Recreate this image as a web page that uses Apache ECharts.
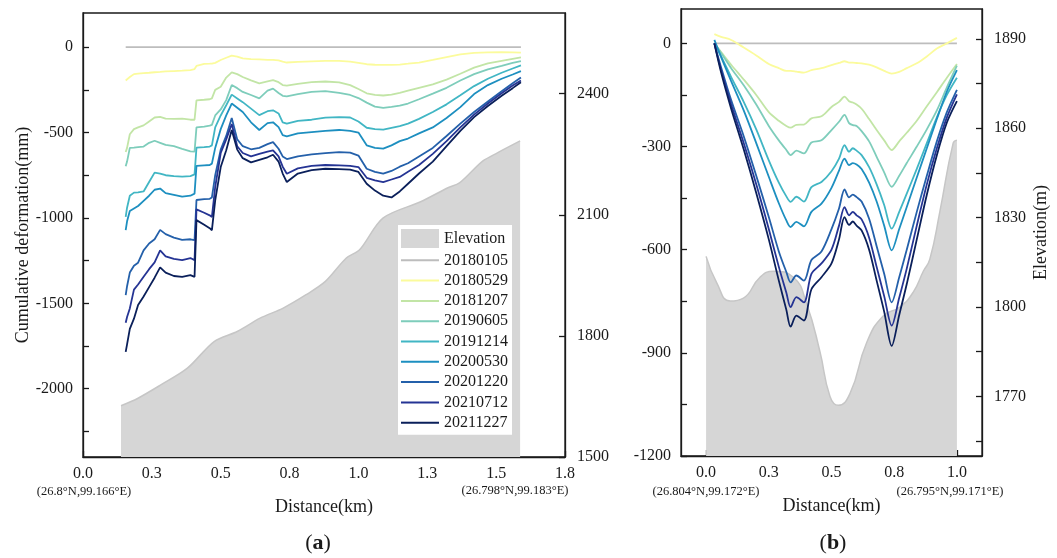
<!DOCTYPE html>
<html lang="en">
<head>
<meta charset="UTF-8">
<title>Cumulative deformation profiles</title>
<script src="https://cdn.jsdelivr.net/npm/echarts@6/dist/echarts.min.js"></script>
<style>html,body{margin:0;padding:0;background:#fff;}</style>
</head>
<body>
<div id="main" style="width:1057px;height:558px;"></div>
<script>
// ---- profile (a) ----
var distA = [0.155,0.16,0.17,0.185,0.2,0.22,0.24,0.26,0.28,0.3,0.33,0.36,0.39,0.405,0.412,0.44,0.46,0.468,0.48,0.5,
  0.52,0.54,0.56,0.58,0.61,0.64,0.67,0.69,0.71,0.725,0.74,0.78,0.83,0.88,0.93,0.97,1.0,1.03,1.06,1.09,
  1.12,1.15,1.18,1.22,1.27,1.32,1.37,1.42,1.47,1.52,1.56,1.59];
var a20180105 = distA.map(function () { return 0; });
var a20180529 = [-195,-190,-175,-158,-155,-152,-150,-147,-145,-142,-140,-138,-135,-128,-110,-98,-97,-96,-92,-75,
  -62,-50,-55,-66,-70,-72,-74,-75,-78,-85,-90,-86,-83,-80,-80,-85,-92,-100,-103,-104,
  -104,-102,-97,-90,-75,-58,-42,-33,-30,-29,-30,-32];
var a20181207 = [-614,-590,-510,-480,-470,-458,-435,-412,-408,-418,-420,-418,-425,-425,-312,-308,-305,-300,-250,-232,
  -178,-148,-158,-175,-195,-212,-200,-193,-205,-222,-225,-215,-205,-201,-206,-222,-245,-270,-280,-283,
  -278,-268,-255,-238,-218,-190,-156,-120,-95,-80,-68,-60];
var a20190605 = [-698,-670,-590,-588,-585,-582,-560,-548,-560,-572,-580,-596,-610,-612,-470,-465,-460,-455,-400,-365,
  -310,-222,-240,-262,-280,-300,-255,-243,-268,-285,-288,-275,-262,-258,-268,-280,-298,-325,-348,-355,
  -350,-343,-330,-305,-272,-238,-195,-158,-130,-110,-92,-82];
var a20191214 = [-994,-940,-870,-852,-850,-845,-790,-735,-740,-750,-755,-758,-755,-745,-588,-585,-582,-575,-470,-400,
  -340,-278,-300,-322,-360,-398,-375,-370,-388,-440,-448,-432,-425,-413,-410,-412,-435,-472,-480,-483,
  -472,-462,-448,-420,-380,-335,-282,-228,-185,-150,-125,-107];
var a20200530 = [-1072,-1020,-960,-945,-930,-900,-870,-835,-828,-855,-865,-875,-870,-858,-695,-692,-690,-682,-590,-480,
  -400,-330,-355,-380,-440,-485,-445,-440,-468,-515,-522,-505,-497,-490,-485,-490,-500,-575,-590,-594,
  -575,-550,-535,-505,-470,-415,-351,-275,-222,-185,-160,-140];
var a20201220 = [-1452,-1400,-1320,-1280,-1262,-1190,-1150,-1125,-1070,-1095,-1115,-1128,-1125,-1130,-895,-890,-888,-880,-750,-600,
  -520,-415,-540,-580,-598,-590,-568,-556,-595,-640,-655,-640,-628,-620,-615,-618,-635,-712,-730,-741,
  -725,-700,-680,-640,-590,-520,-448,-380,-318,-258,-212,-178];
var a20210712 = [-1614,-1580,-1530,-1420,-1390,-1345,-1300,-1260,-1190,-1225,-1240,-1247,-1235,-1247,-950,-970,-985,-994,-819,-620,
  -540,-450,-580,-620,-640,-625,-612,-605,-640,-700,-741,-710,-695,-690,-692,-695,-702,-765,-780,-790,
  -775,-760,-730,-690,-625,-550,-470,-395,-330,-270,-225,-195];
var a20211227 = [-1784,-1740,-1650,-1590,-1510,-1460,-1405,-1350,-1290,-1320,-1340,-1345,-1335,-1345,-1013,-1040,-1060,-1072,-897,-702,
  -604,-485,-600,-650,-675,-660,-645,-630,-670,-740,-790,-740,-720,-712,-714,-717,-731,-800,-840,-870,
  -880,-845,-800,-740,-670,-580,-490,-410,-345,-285,-240,-205];
var elevDistA = [0.138,0.198,0.281,0.379,0.476,0.56,0.643,0.727,0.81,0.88,0.956,1.005,1.089,1.228,1.325,1.367,1.451,1.506,1.587];
var elevA     = [1627,1645,1678,1720,1786,1811,1844,1869,1902,1935,1993,2014,2092,2133,2167,2179,2233,2254,2283];

// ---- profile (b) ----
var distB = [0.033,0.06,0.1,0.15,0.2,0.25,0.29,0.32,0.337,0.36,0.39,0.42,0.46,0.5,0.53,0.552,0.57,0.585,0.6,0.62,
  0.65,0.68,0.71,0.74,0.77,0.8,0.84,0.88,0.92,0.96,1.0];
var b20180105 = distB.map(function () { return 0; });
var b20180529 = [27,19,10,-12,-35,-60,-72,-80,-80,-82,-85,-78,-72,-63,-57,-52,-56,-56,-57,-58,
  -62,-70,-80,-88,-83,-72,-58,-38,-15,0,16];
var b20181207 = [0,-25,-62,-105,-150,-200,-225,-240,-245,-237,-236,-218,-212,-185,-170,-155,-168,-172,-178,-190,
  -220,-252,-282,-310,-285,-260,-225,-183,-142,-100,-60];
var b20190605 = [0,-28,-72,-122,-178,-240,-282,-310,-325,-312,-320,-288,-282,-252,-228,-208,-232,-238,-240,-255,
  -285,-330,-375,-417,-385,-348,-300,-250,-195,-128,-65];
var b20191214 = [0,-38,-98,-170,-250,-340,-405,-445,-461,-446,-460,-418,-403,-372,-335,-296,-315,-305,-312,-325,
  -360,-410,-470,-539,-490,-437,-365,-290,-215,-150,-100];
var b20200530 = [10,-40,-110,-195,-290,-388,-465,-515,-534,-519,-532,-490,-466,-420,-370,-335,-354,-348,-352,-365,
  -405,-460,-530,-602,-540,-476,-390,-305,-220,-140,-78];
var b20201220 = [0,-70,-165,-270,-385,-505,-605,-665,-695,-675,-690,-630,-605,-540,-480,-425,-448,-440,-447,-460,
  -510,-590,-670,-753,-680,-600,-490,-385,-285,-200,-135];
var b20210712 = [0,-78,-178,-290,-410,-540,-650,-725,-767,-738,-753,-670,-640,-600,-530,-476,-500,-490,-500,-512,
  -565,-650,-735,-821,-740,-655,-530,-410,-305,-215,-148];
var b20211227 = [0,-85,-190,-308,-435,-570,-690,-775,-824,-792,-806,-715,-680,-640,-570,-505,-528,-518,-530,-544,
  -600,-690,-780,-880,-790,-700,-570,-440,-325,-230,-168];
var elevDistB = [0,0.043,0.096,0.149,0.215,0.268,0.348,0.401,0.454,0.494,0.527,0.574,0.64,0.706,0.773,0.826,0.866,0.892,0.932,0.985,1.0];
var elevB     = [1817,1808,1802,1803,1810,1812,1810,1801,1785,1770,1767,1771,1788,1797,1800,1805,1812,1816,1832,1855,1856];

var names  = ['20180105','20180529','20181207','20190605','20191214','20200530','20201220','20210712','20211227'];
var colors = ['#bdbdbd','#fbfb9c','#c2e5a6','#7ecdbb','#41b6c4','#1d8fc0','#2460aa','#253494','#0a1f5a'];
var seriesA = [a20180105,a20180529,a20181207,a20190605,a20191214,a20200530,a20201220,a20210712,a20211227];
var seriesB = [b20180105,b20180529,b20181207,b20190605,b20191214,b20200530,b20201220,b20210712,b20211227];

var FONT = "'Liberation Serif','Times New Roman',serif";
var INK = '#1a1a1a';

function pairs(xs, ys) {
  return xs.map(function (x, i) { return [x, ys[i]]; });
}

function axisBase(gi) {
  return {
    gridIndex: gi,
    type: 'value',
    axisLine: { show: true, onZero: false, lineStyle: { color: INK, width: 1.3 } },
    axisTick: { show: true, inside: true, length: 6, lineStyle: { color: INK, width: 1.3 } },
    axisLabel: { color: INK, fontFamily: FONT, fontSize: 16, formatter: function (v) { return String(v); } },
    splitLine: { show: false }
  };
}

var series = [];
// elevation areas first so the lines sit on top
series.push({
  type: 'line', name: 'Elevation', xAxisIndex: 0, yAxisIndex: 1,
  data: pairs(elevDistA, elevA), smooth: 0.3, symbol: 'none', z: 1,
  color: '#d6d6d6',
  lineStyle: { color: '#c6c6c6', width: 1.5 },
  areaStyle: { color: '#d6d6d6', opacity: 1 }
});
series.push({
  type: 'line', name: 'Elevation', xAxisIndex: 1, yAxisIndex: 3,
  data: pairs(elevDistB, elevB), smooth: 0.5, symbol: 'none', z: 1,
  color: '#d6d6d6',
  lineStyle: { color: '#c6c6c6', width: 1.5 },
  areaStyle: { color: '#d6d6d6', opacity: 1 }
});
names.forEach(function (n, k) {
  series.push({
    type: 'line', name: n, xAxisIndex: 0, yAxisIndex: 0,
    data: pairs(distA, seriesA[k]), symbol: 'none', z: 3,
    color: colors[k],
    lineStyle: { color: colors[k], width: 1.8 }
  });
  series.push({
    type: 'line', name: n, xAxisIndex: 1, yAxisIndex: 2,
    data: pairs(distB, seriesB[k]), smooth: 0.3, symbol: 'none', z: 3,
    color: colors[k],
    lineStyle: { color: colors[k], width: 1.8 }
  });
});

var fmt1 = function (v) { return v.toFixed(1); };
var nameStyle = { color: INK, fontFamily: FONT, fontSize: 18 };

var xA = axisBase(0);
xA.min = 0; xA.max = 1.75; xA.interval = 0.25;
xA.axisLabel.formatter = fmt1; xA.axisLabel.margin = 9;
xA.name = 'Distance(km)'; xA.nameLocation = 'middle'; xA.nameGap = 41;
xA.nameTextStyle = nameStyle;

var xB = axisBase(1);
xB.min = -0.1; xB.max = 1.1;
xB.axisTick.customValues = [0, 0.25, 0.5, 0.75, 1.0];
xB.axisLabel.customValues = [0, 0.25, 0.5, 0.75, 1.0];
xB.axisLabel.formatter = fmt1; xB.axisLabel.margin = 9;
xB.name = 'Distance(km)'; xB.nameLocation = 'middle'; xB.nameGap = 41;
xB.nameTextStyle = nameStyle;

var yAL = axisBase(0);
yAL.min = -2400; yAL.max = 200;
yAL.axisTick.customValues = [-2250,-2000,-1750,-1500,-1250,-1000,-750,-500,-250,0];
yAL.axisLabel.customValues = [-2000,-1500,-1000,-500,0];
yAL.axisLabel.margin = 10;
yAL.name = 'Cumulative deformation(mm)'; yAL.nameLocation = 'middle'; yAL.nameGap = 49; yAL.nameRotate = 90;
yAL.nameTextStyle = nameStyle;

var yAR = axisBase(0);
yAR.position = 'right'; yAR.min = 1500; yAR.max = 2600;
yAR.axisTick.customValues = [1500,1800,2100,2400];
yAR.axisLabel.customValues = [1500,1800,2100,2400];
yAR.axisLabel.margin = 12;

var yBL = axisBase(1);
yBL.min = -1200; yBL.max = 100;
yBL.axisTick.customValues = [-1200,-1050,-900,-750,-600,-450,-300,-150,0];
yBL.axisLabel.customValues = [-1200,-900,-600,-300,0];
yBL.axisLabel.margin = 10;

var yBR = axisBase(1);
yBR.position = 'right'; yBR.min = 1750; yBR.max = 1900;
yBR.axisTick.customValues = [1755,1770,1785,1800,1815,1830,1845,1860,1875,1890];
yBR.axisLabel.customValues = [1770,1800,1830,1860,1890];
yBR.axisLabel.margin = 12;
yBR.name = 'Elevation(m)'; yBR.nameLocation = 'middle'; yBR.nameGap = 50; yBR.nameRotate = 90;
yBR.nameTextStyle = nameStyle;

// symbols hidden in the legend, only the Elevation swatch is a filled rect
var legendData = [{ name: 'Elevation', icon: 'rect', itemStyle: { opacity: 1 } }].concat(names);

var coordFont = '12.5px ' + FONT;
function coordText(text, x, y) {
  return { type: 'text', x: x, y: y, style: { text: text, fill: INK, font: coordFont, align: 'center', verticalAlign: 'middle' } };
}
function panelText(letter, x, y) {
  return { type: 'text', x: x, y: y, style: { text: '({b|' + letter + '})', fill: INK, font: '22px ' + FONT, align: 'center', verticalAlign: 'middle',
    rich: { b: { fontWeight: 'bold', fontSize: 22, fontFamily: FONT } } } };
}

var chart = echarts.init(document.getElementById('main'));
chart.setOption({
  animation: false,
  backgroundColor: '#fff',
  grid: [
    { left: 83, top: 13, width: 482, height: 444, show: true, borderColor: INK, borderWidth: 1.3, backgroundColor: 'transparent' },
    { left: 681, top: 9, width: 301, height: 447, show: true, borderColor: INK, borderWidth: 1.3, backgroundColor: 'transparent' }
  ],
  legend: {
    orient: 'vertical', left: 398, top: 225,
    backgroundColor: '#fff', padding: [4, 4, 4, 2],
    itemWidth: 38, itemHeight: 19, itemGap: 4.3,
    itemStyle: { opacity: 0 },
    textStyle: { color: INK, fontFamily: FONT, fontSize: 16 },
    data: legendData
  },
  xAxis: [xA, xB],
  yAxis: [yAL, yAR, yBL, yBR],
  series: series,
  graphic: [
    coordText('(26.8°N,99.166°E)', 84, 492),
    coordText('(26.798°N,99.183°E)', 515, 491),
    coordText('(26.804°N,99.172°E)', 706, 492),
    coordText('(26.795°N,99.171°E)', 950, 492),
    panelText('a', 318, 543),
    panelText('b', 833, 543)
  ]
});
</script>
</body>
</html>
